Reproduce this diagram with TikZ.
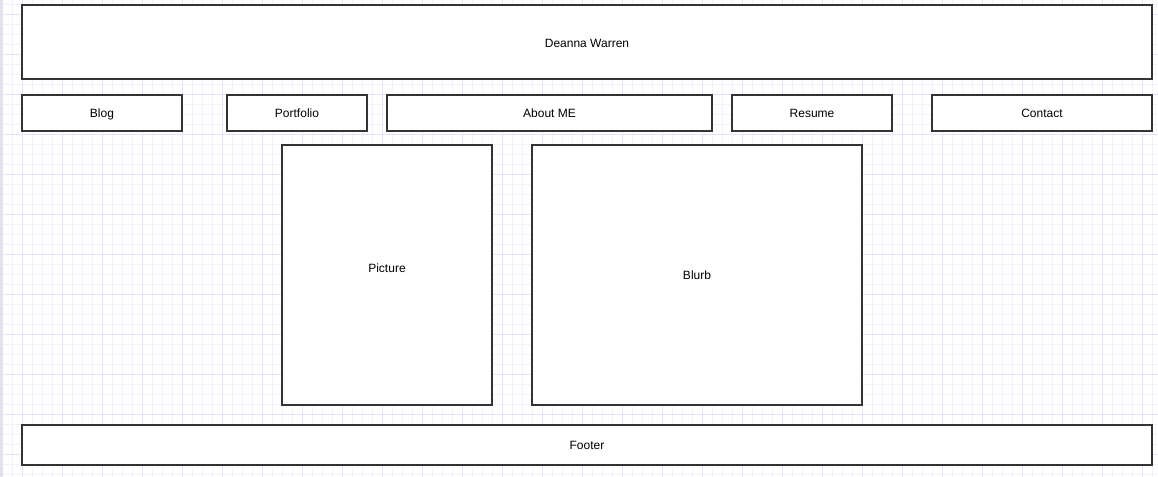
\documentclass[tikz,border=0pt]{standalone}
\usepackage{fontspec}
\setmainfont{Liberation Sans}
\definecolor{gridminor}{HTML}{F3F1FC}
\definecolor{gridmajor}{HTML}{E6E2F8}
\definecolor{boxline}{HTML}{333333}
\definecolor{sidebar}{HTML}{E2E2EA}
\tikzset{
  wbox/.style={draw=boxline, line width=1.5pt, fill=white},
  lbl/.style={font=\fontsize{9}{11}\selectfont, text=black, inner sep=0pt, text height=6.6pt, text depth=1.9pt}
}
\begin{document}
\begin{tikzpicture}[x=0.75pt,y=-0.75pt]
\useasboundingbox (0,0) rectangle (1158,477);
\fill[white] (0,0) rectangle (1158,477);
% grid
\foreach \i in {0,...,115} {\draw[gridminor, line width=0.75pt] ({2.7+10*\i},0) -- ({2.7+10*\i},477);}
\foreach \j in {0,...,47} {\draw[gridminor, line width=0.75pt] (0,{5+10*\j}) -- (1158,{5+10*\j});}
\foreach \i in {0,...,28} {\draw[gridmajor, line width=0.75pt] ({22.7+40*\i},0) -- ({22.7+40*\i},477);}
\foreach \j in {0,...,11} {\draw[gridmajor, line width=0.75pt] (0,{15+40*\j}) -- (1158,{15+40*\j});}
\fill[sidebar] (0,0) rectangle (3,477);
% boxes
\draw[wbox] (22,5) rectangle (1152,79);
\node[lbl] (header) at (587,44) {Deanna Warren};
\draw[wbox] (22,95) rectangle (182,131);
\node[lbl] (blog) at (102,114.5) {Blog};
\draw[wbox] (227,95) rectangle (367,131);
\node[lbl] (portfolio) at (297,114.5) {Portfolio};
\draw[wbox] (387,95) rectangle (712,131);
\node[lbl] (about) at (549.5,114.5) {About ME};
\draw[wbox] (732,95) rectangle (892,131);
\node[lbl] (resume) at (812,114.5) {Resume};
\draw[wbox] (932,95) rectangle (1152,131);
\node[lbl] (contact) at (1042,114.5) {Contact};
\draw[wbox] (282,145) rectangle (492,405);
\node[lbl] (picture) at (387,269) {Picture};
\draw[wbox] (532,145) rectangle (862,405);
\node[lbl] (blurb) at (697,276) {Blurb};
\draw[wbox] (22,425) rectangle (1152,465);
\node[lbl] (footer) at (587,446) {Footer};
\end{tikzpicture}
\end{document}
